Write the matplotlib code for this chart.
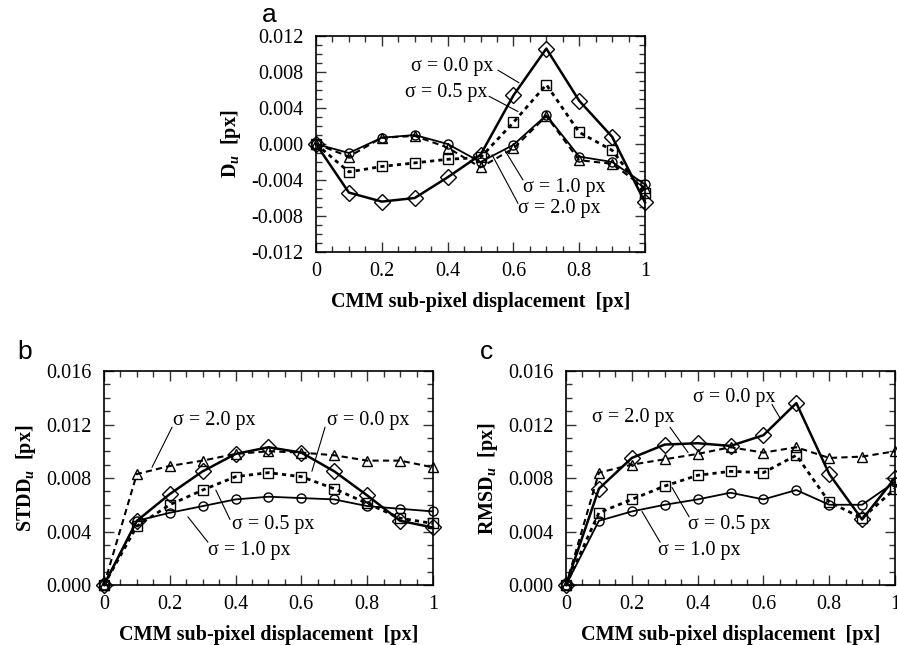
import numpy as np
import matplotlib
matplotlib.use("Agg")
import matplotlib.pyplot as plt
from matplotlib.ticker import MultipleLocator

plt.rcParams['font.family'] = ['Liberation Serif', 'DejaVu Serif']
plt.rcParams['mathtext.fontset'] = 'custom'
plt.rcParams['mathtext.rm'] = 'Liberation Serif:bold'
plt.rcParams['mathtext.bf'] = 'Liberation Serif:bold'
plt.rcParams['mathtext.it'] = 'Liberation Serif:italic:bold'

# sub-pixel displacement of the CMM
disp = [0.0, 0.1, 0.2, 0.3, 0.4, 0.5, 0.6, 0.7, 0.8, 0.9, 1.0]

# (a) mean bias D_u
du_s00 = [0.0, -0.0054, -0.0064, -0.0060, -0.0037, -0.0012, 0.0054, 0.0106, 0.0048, 0.0008, -0.0065]
du_s05 = [0.0, -0.0031, -0.0025, -0.0021, -0.0017, -0.0015, 0.0024, 0.0066, 0.0013, -0.0007, -0.0055]
du_s10 = [0.0, -0.0010, 0.0007, 0.0010, 0.0000, -0.0020, -0.0001, 0.0032, -0.0014, -0.0020, -0.0045]
du_s20 = [0.0, -0.0014, 0.0007, 0.0009, -0.0004, -0.0026, -0.0005, 0.0031, -0.0018, -0.0022, -0.0049]

# (b) standard deviation STDD_u
std_s00 = [0.0, 0.0048, 0.0068, 0.0085, 0.0098, 0.0103, 0.0099, 0.0085, 0.0067, 0.0048, 0.0043]
std_s05 = [0.0, 0.0044, 0.0060, 0.0071, 0.0081, 0.0084, 0.0081, 0.0072, 0.0061, 0.0050, 0.0046]
std_s10 = [0.0, 0.0048, 0.0054, 0.0059, 0.0064, 0.0066, 0.0065, 0.0064, 0.0059, 0.0057, 0.0055]
std_s20 = [0.0, 0.0083, 0.0089, 0.0093, 0.0098, 0.0100, 0.0099, 0.0097, 0.0093, 0.0093, 0.0088]

# (c) root mean square RMSD_u
rms_s00 = [0.0, 0.0072, 0.0095, 0.0105, 0.0106, 0.0104, 0.0112, 0.0136, 0.0083, 0.0049, 0.0080]
rms_s05 = [0.0, 0.0054, 0.0064, 0.0074, 0.0082, 0.0085, 0.0084, 0.0097, 0.0062, 0.0050, 0.0072]
rms_s10 = [0.0, 0.0048, 0.0055, 0.0060, 0.0064, 0.0069, 0.0064, 0.0071, 0.0060, 0.0060, 0.0077]
rms_s20 = [0.0, 0.0084, 0.0090, 0.0094, 0.0098, 0.0103, 0.0099, 0.0103, 0.0095, 0.0096, 0.0100]

sigma_labels = ['σ = 0.0 px', 'σ = 0.5 px', 'σ = 1.0 px', 'σ = 2.0 px']

a_yticks = [-0.012, -0.008, -0.004, 0.0, 0.004, 0.008, 0.012]
a_yticklabels = ['-0.012', '-0.008', '-0.004', '0.000', '0.004', '0.008', '0.012']
bc_yticks = [0.0, 0.004, 0.008, 0.012, 0.016]
bc_yticklabels = ['0.000', '0.004', '0.008', '0.012', '0.016']
xticks = [0, 0.2, 0.4, 0.6, 0.8, 1.0]
xticklabels = ['0', '0.2', '0.4', '0.6', '0.8', '1']

# line style per sigma: (linestyle, linewidth, marker, markersize)
styles = [
    dict(ls='-', lw=1.8, marker='D', ms=8),
    dict(ls=(0, (1.5, 1.5)), lw=2.0, marker='s', ms=6.5),
    dict(ls='-', lw=1.3, marker='o', ms=6.5),
    dict(ls=(0, (3, 2)), lw=1.5, marker='^', ms=6.5),
]


def draw_series(ax, series):
    for ys, st in zip(series, styles):
        ax.plot(disp, ys, color='black', linestyle=st['ls'], linewidth=st['lw'],
                marker=st['marker'], markersize=st['ms'], markerfacecolor='none',
                markeredgecolor='black', markeredgewidth=1.0, clip_on=False, zorder=3)


def style_axes(ax, yticks, yticklabels, ylim, ylabel):
    ax.set_xlim(0, 1)
    ax.set_ylim(*ylim)
    ax.set_xticks(xticks)
    ax.set_xticklabels(xticklabels)
    ax.set_yticks(yticks)
    ax.set_yticklabels(yticklabels)
    ax.xaxis.set_minor_locator(MultipleLocator(0.05))
    ax.yaxis.set_minor_locator(MultipleLocator(0.001))
    ax.tick_params(which='both', direction='in', top=True, right=True,
                   labelsize=14.5, width=1.0, color='#333333')
    ax.tick_params(which='major', length=7.5)
    ax.tick_params(which='minor', length=4.5)
    ax.tick_params(axis='y', pad=9)
    ax.tick_params(axis='x', pad=7)
    for sp in ax.spines.values():
        sp.set_linewidth(1.2)
    ax.set_xlabel('CMM sub-pixel displacement  [px]', fontsize=14.5,
                  fontweight='bold', labelpad=8)
    ax.set_ylabel(ylabel, fontsize=14.5, fontweight='bold', labelpad=6)


def leader(ax, text, text_xy, line_from, line_to, ha='left'):
    ax.text(text_xy[0], text_xy[1], text, fontsize=14.5, ha=ha, va='center')
    ax.annotate('', xy=line_to, xytext=line_from,
                arrowprops=dict(arrowstyle='-', lw=0.8, color='black',
                                shrinkA=0, shrinkB=0))


fig = plt.figure(figsize=(8.97, 6.45), dpi=100)

ax_a = fig.add_axes([0.3523, 0.6093, 0.3668, 0.3349])
ax_b = fig.add_axes([0.1159, 0.0930, 0.3668, 0.3318])
ax_c = fig.add_axes([0.6310, 0.0930, 0.3668, 0.3318])

# (a)
draw_series(ax_a, [du_s00, du_s05, du_s10, du_s20])
style_axes(ax_a, a_yticks, a_yticklabels, (-0.012, 0.012), r'$\mathbf{D}_{u}$  [px]')
leader(ax_a, sigma_labels[0], (0.538, 0.0086), (0.553, 0.0082), (0.617, 0.0068), ha='right')
leader(ax_a, sigma_labels[1], (0.520, 0.0057), (0.526, 0.0053), (0.614, 0.0036), ha='right')
leader(ax_a, sigma_labels[2], (0.629, -0.0048), (0.629, -0.0040), (0.574, -0.0007))
leader(ax_a, sigma_labels[3], (0.614, -0.0072), (0.614, -0.0066), (0.535, -0.0012))

# (b)
draw_series(ax_b, [std_s00, std_s05, std_s10, std_s20])
style_axes(ax_b, bc_yticks, bc_yticklabels, (0, 0.016), r'$\mathbf{STDD}_{u}$  [px]')
leader(ax_b, sigma_labels[3], (0.210, 0.0123), (0.207, 0.0118), (0.146, 0.0088))
leader(ax_b, sigma_labels[0], (0.678, 0.0123), (0.672, 0.0118), (0.632, 0.0085))
leader(ax_b, sigma_labels[1], (0.389, 0.0045), (0.383, 0.0049), (0.340, 0.0071))
leader(ax_b, sigma_labels[2], (0.316, 0.0026), (0.316, 0.0032), (0.255, 0.0051))

# (c)
draw_series(ax_c, [rms_s00, rms_s05, rms_s10, rms_s20])
style_axes(ax_c, bc_yticks, bc_yticklabels, (0, 0.016), r'$\mathbf{RMSD}_{u}$  [px]')
leader(ax_c, sigma_labels[0], (0.386, 0.0140), (0.626, 0.0135), (0.650, 0.0125))
leader(ax_c, sigma_labels[3], (0.079, 0.0125), (0.316, 0.0118), (0.371, 0.0099))
leader(ax_c, sigma_labels[1], (0.371, 0.0045), (0.374, 0.0051), (0.322, 0.0073))
leader(ax_c, sigma_labels[2], (0.280, 0.0026), (0.286, 0.0032), (0.231, 0.0055))

# panel letters
for lbl, (px, py) in zip(['a', 'b', 'c'], [(262, 15), (17, 352), (480, 352)]):
    fig.text(px / 897, 1 - py / 645, lbl, fontsize=19, family='Liberation Sans',
             ha='left', va='center')

fig.savefig('out.png', dpi=100)
